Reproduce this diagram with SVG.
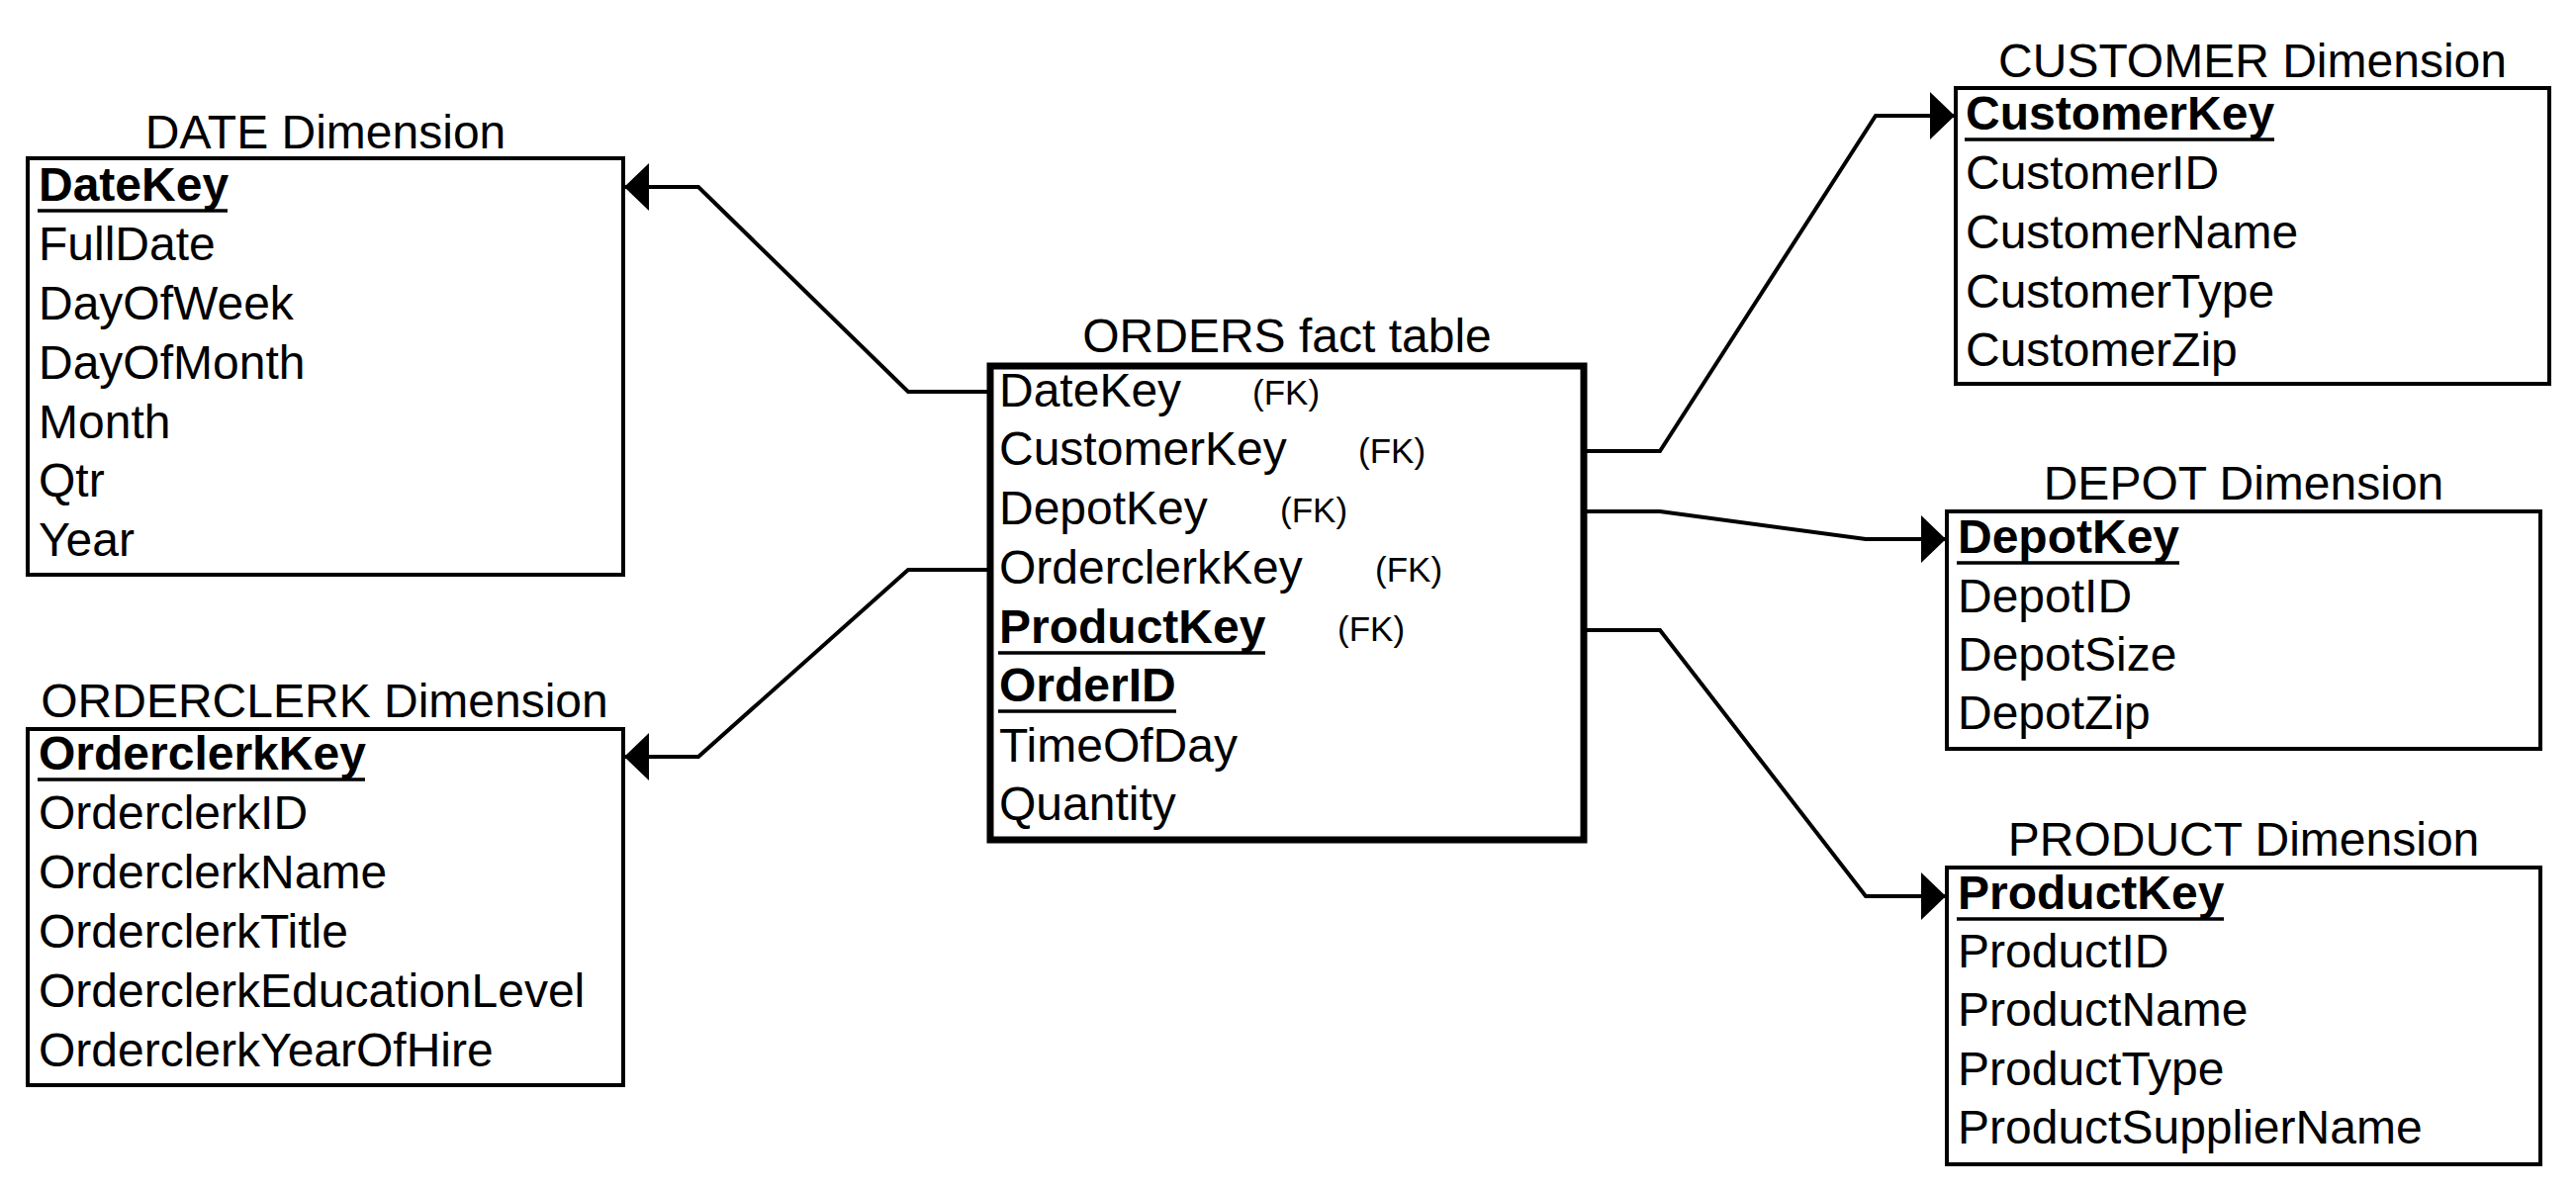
<svg xmlns="http://www.w3.org/2000/svg" width="2604" height="1204" viewBox="0 0 2604 1204">
<style>
text{font-family:"Liberation Sans",Arial,sans-serif;font-size:48px;fill:#000}
.t{text-anchor:middle}
.b{font-weight:bold}
.fk{font-size:35px}
.box{fill:#fff;stroke:#000;stroke-width:4}
.fact{fill:#fff;stroke:#000;stroke-width:7}
.ul{stroke:#000;stroke-width:3.5}
.c{fill:none;stroke:#000;stroke-width:4}
</style>
<defs>
<marker id="ah" markerUnits="userSpaceOnUse" markerWidth="26" markerHeight="48" refX="25" refY="24" orient="auto">
<path d="M0,0 L25,24 L0,48 Z" fill="#000"/>
</marker>
</defs>
<rect width="2604" height="1204" fill="#fff"/>
<g id="connectors">
<path class="c" d="M998,396 L918,396 L706,189 L631,189" marker-end="url(#ah)"/>
<path class="c" d="M998,576 L918,576 L706,765 L631,765" marker-end="url(#ah)"/>
<path class="c" d="M1604,456 L1678,456 L1896,117 L1976,117" marker-end="url(#ah)"/>
<path class="c" d="M1604,517 L1678,517 L1886,545 L1967,545" marker-end="url(#ah)"/>
<path class="c" d="M1604,637 L1678,637 L1886,906 L1967,906" marker-end="url(#ah)"/>
</g>
<g id="date">
<text class="t" x="329" y="150">DATE Dimension</text>
<rect class="box" x="28" y="160" width="602" height="421"/>
<text class="b" x="39" y="203">DateKey</text>
<line class="ul" x1="38" y1="213" x2="230" y2="213"/>
<text x="39" y="263">FullDate</text>
<text x="39" y="323">DayOfWeek</text>
<text x="39" y="383">DayOfMonth</text>
<text x="39" y="443">Month</text>
<text x="39" y="502">Qtr</text>
<text x="39" y="562">Year</text>
</g>
<g id="orderclerk">
<text class="t" x="328" y="725">ORDERCLERK Dimension</text>
<rect class="box" x="28" y="737" width="602" height="360"/>
<text class="b" x="39" y="778">OrderclerkKey</text>
<line class="ul" x1="38" y1="788" x2="369" y2="788"/>
<text x="39" y="838">OrderclerkID</text>
<text x="39" y="898">OrderclerkName</text>
<text x="39" y="958">OrderclerkTitle</text>
<text x="39" y="1018">OrderclerkEducationLevel</text>
<text x="39" y="1078">OrderclerkYearOfHire</text>
</g>
<g id="orders">
<text class="t" x="1301" y="356">ORDERS fact table</text>
<rect class="fact" x="1001" y="370" width="600" height="479"/>
<text x="1010" y="411">DateKey</text>
<text class="fk" x="1266" y="409">(FK)</text>
<text x="1010" y="470">CustomerKey</text>
<text class="fk" x="1373" y="468">(FK)</text>
<text x="1010" y="530">DepotKey</text>
<text class="fk" x="1294" y="528">(FK)</text>
<text x="1010" y="590">OrderclerkKey</text>
<text class="fk" x="1390" y="588">(FK)</text>
<text class="b" x="1010" y="650">ProductKey</text>
<line class="ul" x1="1009" y1="660" x2="1279" y2="660"/>
<text class="fk" x="1352" y="648">(FK)</text>
<text class="b" x="1010" y="709">OrderID</text>
<line class="ul" x1="1009" y1="719" x2="1189" y2="719"/>
<text x="1010" y="770">TimeOfDay</text>
<text x="1010" y="829">Quantity</text>
</g>
<g id="customer">
<text class="t" x="2277" y="78">CUSTOMER Dimension</text>
<rect class="box" x="1977" y="89" width="600" height="299"/>
<text class="b" x="1987" y="131">CustomerKey</text>
<line class="ul" x1="1986" y1="141" x2="2299" y2="141"/>
<text x="1987" y="191">CustomerID</text>
<text x="1987" y="251">CustomerName</text>
<text x="1987" y="311">CustomerType</text>
<text x="1987" y="370">CustomerZip</text>
</g>
<g id="depot">
<text class="t" x="2268" y="505">DEPOT Dimension</text>
<rect class="box" x="1968" y="517" width="600" height="240"/>
<text class="b" x="1979" y="559">DepotKey</text>
<line class="ul" x1="1978" y1="569" x2="2203" y2="569"/>
<text x="1979" y="619">DepotID</text>
<text x="1979" y="678">DepotSize</text>
<text x="1979" y="737">DepotZip</text>
</g>
<g id="product">
<text class="t" x="2268" y="865">PRODUCT Dimension</text>
<rect class="box" x="1968" y="877" width="600" height="300"/>
<text class="b" x="1979" y="919">ProductKey</text>
<line class="ul" x1="1978" y1="929" x2="2248" y2="929"/>
<text x="1979" y="978">ProductID</text>
<text x="1979" y="1037">ProductName</text>
<text x="1979" y="1097">ProductType</text>
<text x="1979" y="1156">ProductSupplierName</text>
</g>
</svg>
